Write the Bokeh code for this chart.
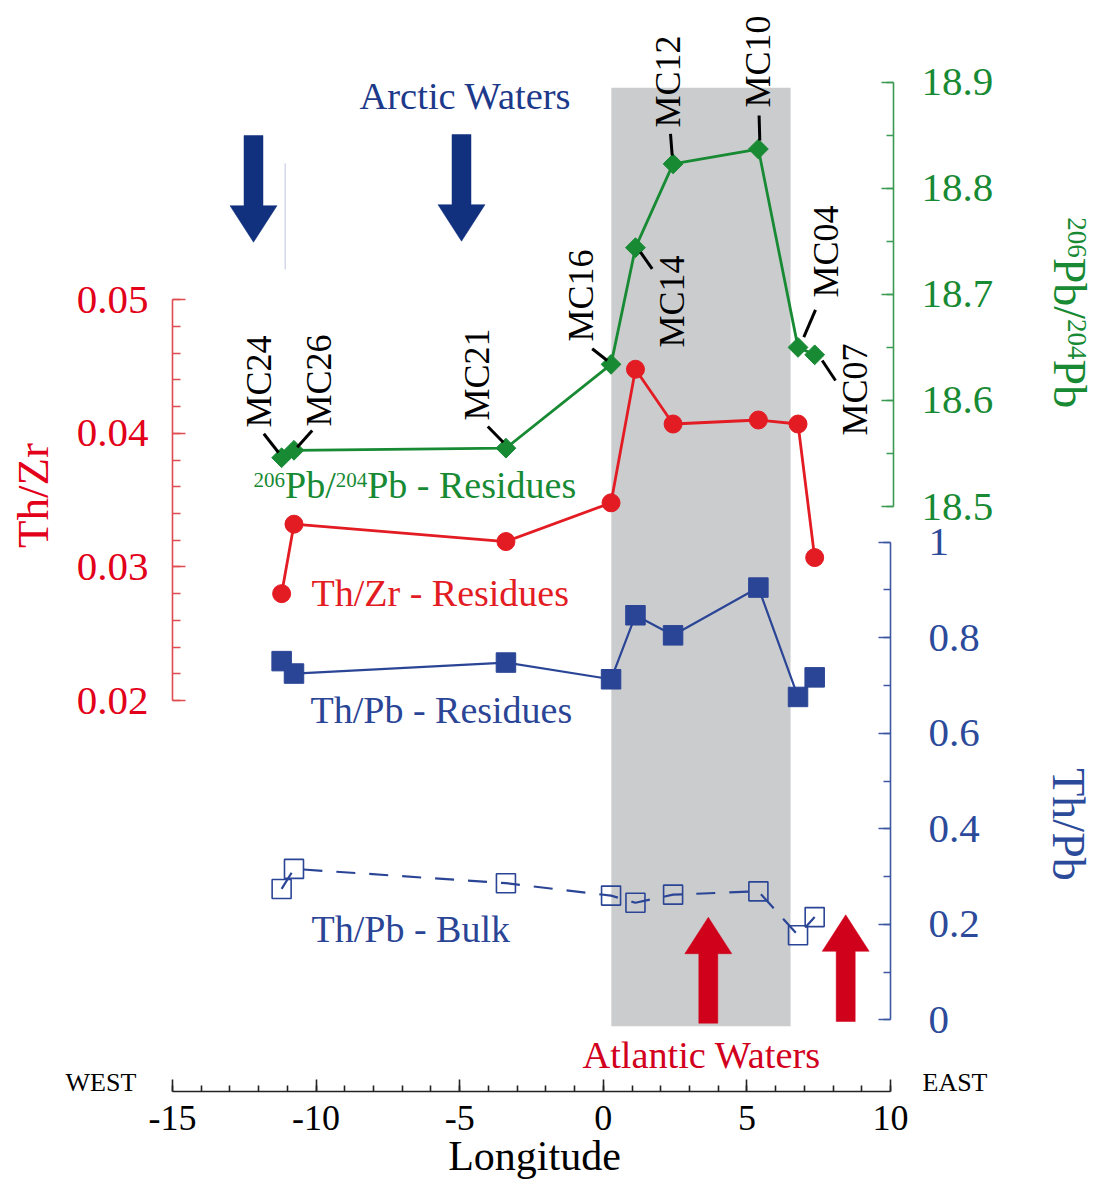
import numpy as np
from bokeh.plotting import figure
from bokeh.models import (Range1d, LinearAxis, SingleIntervalTicker, BoxAnnotation,
                          Label, CustomJSTickFormatter, ColumnDataSource)
from bokeh.embed import file_html
from bokeh.resources import INLINE

# ---------------- data ----------------
samples    = ["MC24", "MC26", "MC21", "MC16", "MC14", "MC12", "MC10", "MC04", "MC07"]
longitude  = [-11.20, -10.77, -3.39, 0.27, 1.12, 2.43, 5.40, 6.78, 7.36]
pb206_204  = [18.546, 18.553, 18.555, 18.634, 18.744, 18.823, 18.837, 18.650, 18.643]
th_zr_res  = [0.0280, 0.0332, 0.0319, 0.0348, 0.0448, 0.0407, 0.0410, 0.0407, 0.0307]
th_pb_res  = [0.751, 0.725, 0.748, 0.713, 0.847, 0.805, 0.905, 0.676, 0.717]
th_pb_bulk = [0.274, 0.316, 0.286, 0.260, 0.245, 0.262, 0.269, 0.177, 0.215]
shaded_lon = [0.28, 6.52]

lon_limits  = [-15, 10]
thzr_limits = [0.02, 0.05]
pb_limits   = [18.5, 18.9]
thpb_limits = [0.0, 1.0]

# ---------------- layout (screen pixels; the frame fills the canvas) ----------------
W, H = 1096, 1180
AX_L, AX_R, AX_B = 172, 890, 1091            # longitude axis ends / baseline on screen
FONT = "Liberation Serif"
RED, GREEN, BLUE = "#E31B23", "#178A33", "#2B4596"
NAVY, ARED, BAND = "#11317F", "#D0011B", "#CBCCCE"
K_BASE = 0.32                                # alphabetic-baseline correction (em)

def frame_range(v_a, px_a, v_b, px_b):
    k = (v_b - v_a) / (px_b - px_a)
    return Range1d(start=v_a + (H - px_a) * k, end=v_a + (0 - px_a) * k)

def lon_at(px):
    return lon_limits[0] + (px - AX_L) * (lon_limits[1] - lon_limits[0]) / (AX_R - AX_L)

p = figure(width=W, height=H, output_backend="svg", toolbar_location=None,
           x_range=Range1d(lon_at(0), lon_at(W)), y_range=Range1d(H, 0),
           x_axis_type=None, y_axis_type=None, title=None,
           min_border_left=0, min_border_right=0, min_border_top=0, min_border_bottom=0)
p.outline_line_color = None
p.background_fill_color = "white"
p.border_fill_color = "white"
p.extra_x_ranges = {"px": Range1d(0, W)}
p.extra_y_ranges = {
    "thzr": frame_range(0.05, 299.3, 0.02, 700.0),
    "pb":   frame_range(18.9, 81.7, 18.5, 506.0),
    "thpb": frame_range(1.0, 541.7, 0.0, 1019.3),
}

def style_axis(ax, color, line_color, size="41px"):
    ax.major_tick_in, ax.major_tick_out = 12, 0
    ax.minor_tick_in, ax.minor_tick_out = 7, 0
    ax.axis_line_color = line_color
    ax.major_tick_line_color = line_color
    ax.minor_tick_line_color = line_color
    ax.axis_line_width = 1.6
    ax.major_tick_line_width = 1.6
    ax.minor_tick_line_width = 1.6
    ax.major_label_text_font = FONT
    ax.major_label_text_font_size = size
    ax.major_label_text_color = color

eps = 1e-7
# longitude axis
xa = LinearAxis(ticker=SingleIntervalTicker(interval=5, num_minor_ticks=5),
                bounds=(lon_limits[0] - eps, lon_limits[1] + eps), fixed_location=AX_B,
                formatter=CustomJSTickFormatter(code="return tick.toFixed(0)"))
style_axis(xa, "black", "#222222", "36px")
xa.minor_tick_in = 6
xa.major_label_standoff = 14
p.add_layout(xa, "below")

# Th/Zr axis (left)
ya = LinearAxis(y_range_name="thzr", fixed_location=lon_at(172),
                ticker=SingleIntervalTicker(interval=0.01, num_minor_ticks=5),
                bounds=(thzr_limits[0] - 1e-6, thzr_limits[1] + 1e-6),
                formatter=CustomJSTickFormatter(code="return tick.toFixed(2)"))
style_axis(ya, "#E2001A", "#DE4C52")
ya.major_tick_in = 13
ya.minor_tick_in = 8
ya.major_label_standoff = 24
p.add_layout(ya, "left")

# 206Pb/204Pb axis (right, top)
yb = LinearAxis(y_range_name="pb", fixed_location=lon_at(893),
                ticker=SingleIntervalTicker(interval=0.1, num_minor_ticks=2),
                bounds=(pb_limits[0] - 1e-6, pb_limits[1] + 1e-6),
                formatter=CustomJSTickFormatter(code="return tick.toFixed(1)"))
style_axis(yb, GREEN, "#3A9A52")
yb.major_label_standoff = 28
p.add_layout(yb, "right")

# Th/Pb axis (right, bottom)
yc = LinearAxis(y_range_name="thpb", fixed_location=lon_at(890),
                ticker=SingleIntervalTicker(interval=0.2, num_minor_ticks=2),
                bounds=(thpb_limits[0] - 1e-6, thpb_limits[1] + 1e-6),
                formatter=CustomJSTickFormatter(code="return String(Math.round(tick*10)/10)"))
style_axis(yc, "#2C4A9A", "#3D57A3")
yc.major_label_standoff = 38
p.add_layout(yc, "right")

# shaded longitude band
p.add_layout(BoxAnnotation(left=shaded_lon[0], right=shaded_lon[1], top=87.3, bottom=1025.7,
                           fill_color=BAND, fill_alpha=1.0, line_color=None, level="underlay"))

src = ColumnDataSource(dict(lon=longitude, pb=pb206_204, thzr=th_zr_res,
                            thpb=th_pb_res, bulk=th_pb_bulk, name=samples))

# Th/Pb bulk (dashed, open squares)
p.line("lon", "bulk", source=src, y_range_name="thpb", line_color=BLUE,
       line_width=2.2, line_dash="19 14")
p.scatter("lon", "bulk", source=src, y_range_name="thpb", marker="square", size=19,
          fill_color=None, line_color=BLUE, line_width=1.6)
# Th/Pb residues
p.line("lon", "thpb", source=src, y_range_name="thpb", line_color=BLUE, line_width=2.2)
p.scatter("lon", "thpb", source=src, y_range_name="thpb", marker="square", size=19.5,
          fill_color=BLUE, line_color=BLUE, line_width=1)
# Th/Zr residues
p.line("lon", "thzr", source=src, y_range_name="thzr", line_color=RED, line_width=2.8)
p.scatter("lon", "thzr", source=src, y_range_name="thzr", marker="circle", size=18,
          fill_color=RED, line_color=RED, line_width=1)
# 206Pb/204Pb residues
p.line("lon", "pb", source=src, y_range_name="pb", line_color=GREEN, line_width=2.8)
p.scatter("lon", "pb", source=src, y_range_name="pb", marker="square", angle=np.pi / 4,
          size=14, fill_color=GREEN, line_color=GREEN, line_width=1)

# arrows (screen-pixel annotations)
def arrow_poly(cx, tail, tip, shaft_w=19, head_w=47, head_len=36.5):
    d = 1 if tip > tail else -1
    base = tip - d * head_len
    xs = [cx - shaft_w / 2, cx + shaft_w / 2, cx + shaft_w / 2, cx + head_w / 2,
          cx, cx - head_w / 2, cx - shaft_w / 2]
    ys = [tail, tail, base, base, tip, base, base]
    return xs, ys

arctic_arrows = [(253, 135, 241.7), (461, 134, 240.7)]
atlantic_arrows = [(707.8, 1022.7, 916.7), (845.2, 1021, 914.3)]
for arrows, col in ((arctic_arrows, NAVY), (atlantic_arrows, ARED)):
    polys = [arrow_poly(*a) for a in arrows]
    p.patches([q[0] for q in polys], [q[1] for q in polys], x_range_name="px",
              fill_color=col, line_color=col, line_width=0.5)

# faint vertical hairline next to the first arrow
p.segment([284.7], [162.7], [284.7], [269], x_range_name="px",
          line_color="#C9CEE6", line_width=1.2)

# sample labels (center x, bottom y) and leader lines
label_pos = {"MC24": (258, 427), "MC26": (318, 426), "MC21": (476, 420),
             "MC16": (580, 341), "MC14": (671, 347), "MC12": (667, 127),
             "MC10": (757, 107), "MC04": (825, 297), "MC07": (854, 435)}
leaders = [(263.3, 433.3, 278, 452), (311.7, 430, 296.7, 446.7), (487.3, 426, 502.7, 441.7),
           (591.7, 348.3, 606.7, 360), (640, 251.7, 651.7, 268.3), (670, 133.3, 671.7, 155),
           (758.6, 115, 759.3, 140), (815, 309.3, 803.3, 336.7), (821.7, 360, 835, 380)]
p.segment([l[0] for l in leaders], [l[1] for l in leaders],
          [l[2] for l in leaders], [l[3] for l in leaders], x_range_name="px",
          line_color="black", line_width=3)

def lab(x, y, text, size_px, color, angle=0.0, align="left", baseline="alphabetic"):
    if baseline == "alphabetic":
        # move the anchor "up" (in the text's own frame) so the glyph baseline lands on (x, y)
        x += -np.sin(angle) * K_BASE * size_px
        y += -np.cos(angle) * K_BASE * size_px
    p.add_layout(Label(x=x, y=y, text=text, x_range_name="px", angle=angle,
                       text_font=FONT, text_font_size=f"{size_px}px", text_color=color,
                       text_align=align, text_baseline=baseline))

# Times-like advance widths (em) to chain super-/normal-script pieces
ADV = {"0": .5, "2": .5, "4": .5, "6": .5, "P": .556, "b": .5, "/": .278, " ": .25,
       "-": .333, "R": .667, "e": .444, "s": .389, "i": .278, "d": .5, "u": .5}

def adv(text, px):
    return sum(ADV.get(c, .5) for c in text) * px

def isotope_label(start, base, parts, big, small, rise, color, vertical=False):
    pos = start
    for text, sup in parts:
        fs = small if sup else big
        if vertical:
            lab(base + (rise if sup else 0), pos, text, fs, color, angle=-np.pi / 2)
        else:
            lab(pos, base - (rise if sup else 0), text, fs, color)
        pos += adv(text, fs)

for s in samples:
    cx, by = label_pos[s]
    lab(cx, by, s, 36, "black", angle=np.pi / 2, baseline="middle")

lab(359, 108.3, "Arctic Waters", 38.5, "#1D398A")
lab(582, 1066.7, "Atlantic Waters", 38.3, "#D2001C")
isotope_label(253, 497, [("206", True), ("Pb/", False), ("204", True), ("Pb - Residues", False)],
              38, 21, 11, GREEN)
lab(311, 605, "Th/Zr - Residues", 38, RED)
lab(310, 721.7, "Th/Pb - Residues", 38, BLUE)
lab(311, 940.7, "Th/Pb - Bulk", 38, BLUE)
lab(65, 1090.7, "WEST", 26, "black")
lab(922, 1090.7, "EAST", 26, "black")
lab(534, 1169, "Longitude", 42, "black", align="center")

# axis titles
lab(32, 495, "Th/Zr", 45, "#E2001A", angle=np.pi / 2, align="center", baseline="middle")
isotope_label(216.7, 1054, [("206", True), ("Pb/", False), ("204", True), ("Pb", False)],
              46, 27, 14, GREEN, vertical=True)
lab(1068, 824, "Th/Pb", 46, "#2C4A9A", angle=-np.pi / 2, align="center", baseline="middle")

open("out.html", "w").write(file_html(p, INLINE))
